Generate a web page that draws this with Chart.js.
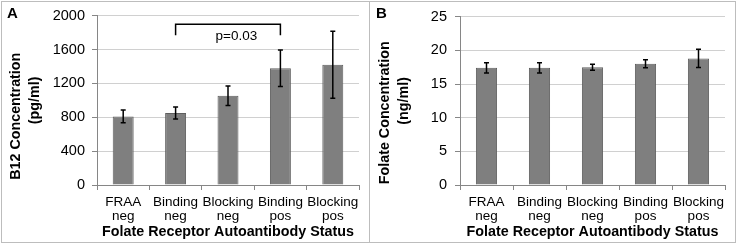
<!DOCTYPE html>
<html>
<head>
<meta charset="utf-8">
<script src="https://cdn.jsdelivr.net/npm/chart.js@4/dist/chart.umd.min.js"></script>
<style>
  body { margin: 0; background: #fff; }
  #wrap { position: relative; width: 737px; height: 245px; }
  .panel { position: absolute; top: 0; height: 245px; }
  .frame { position: absolute; top: 1px; height: 242px; box-sizing: border-box; border: 1px solid #bdbdbd; pointer-events: none; }
</style>
</head>
<body>
<div id="wrap">
  <div class="panel" style="left:0;width:369px"><canvas id="chartA" width="369" height="245"></canvas></div>
  <div class="panel" style="left:369px;width:368px"><canvas id="chartB" width="368" height="245"></canvas></div>
  <div class="frame" style="left:1px;width:369px"></div>
  <div class="frame" style="left:369px;width:367px"></div>
</div>
<script>
// Data
const categories = [["FRAA", "neg"], ["Binding", "neg"], ["Blocking", "neg"], ["Binding", "pos"], ["Blocking", "pos"]];
const b12Means = [810, 850, 1055, 1380, 1420];
const b12Errors = [75, 70, 115, 215, 395];
const folateMeans = [17.4, 17.4, 17.5, 18.0, 18.8];
const folateErrors = [0.75, 0.75, 0.45, 0.6, 1.35];
const b12Axis = { max: 2000, step: 400 };
const folateAxis = { max: 25, step: 5 };
// significance bracket between "Binding neg" and "Binding pos"
const b12Bracket = { from: 1, to: 3, top: 1900, leg: 1770, label: "p=0.03", labelAt: 2.16, labelY: 1760 };

const FONT = "'Liberation Sans', Arial, sans-serif";
const AXIS_COLOR = "#868686";

// draws the error bars on top of each bar
const errorBarPlugin = {
  id: "errorBars",
  afterDatasetsDraw(chart, args, opts) {
    const ctx = chart.ctx;
    const y = chart.scales.y;
    const meta = chart.getDatasetMeta(0);
    const means = chart.data.datasets[0].data;
    ctx.save();
    ctx.strokeStyle = "#000";
    ctx.lineWidth = 1.5;
    meta.data.forEach((bar, i) => {
      const top = y.getPixelForValue(means[i] + opts.errors[i]);
      const bot = y.getPixelForValue(means[i] - opts.errors[i]);
      ctx.beginPath();
      ctx.moveTo(bar.x, top);
      ctx.lineTo(bar.x, bot);
      ctx.moveTo(bar.x - 2.5, top);
      ctx.lineTo(bar.x + 2.5, top);
      ctx.moveTo(bar.x - 2.5, bot);
      ctx.lineTo(bar.x + 2.5, bot);
      ctx.stroke();
    });
    ctx.restore();
  },
};

// bracket with p value, plus the panel letter
const annotationPlugin = {
  id: "annot",
  afterDraw(chart, args, opts) {
    const ctx = chart.ctx;
    ctx.save();
    ctx.fillStyle = "#000";
    ctx.font = "bold 15px " + FONT;
    ctx.textBaseline = "top";
    ctx.textAlign = "left";
    ctx.fillText(opts.letter, 7, 6);
    const b = opts.bracket;
    if (b) {
      const x = chart.scales.x;
      const y = chart.scales.y;
      const x1 = x.getPixelForValue(b.from);
      const x2 = x.getPixelForValue(b.to);
      const yt = y.getPixelForValue(b.top);
      const yl = y.getPixelForValue(b.leg);
      ctx.strokeStyle = "#000";
      ctx.lineWidth = 1.5;
      ctx.beginPath();
      ctx.moveTo(x1, yl);
      ctx.lineTo(x1, yt);
      ctx.lineTo(x2, yt);
      ctx.lineTo(x2, yl);
      ctx.stroke();
      ctx.font = "13.5px " + FONT;
      ctx.textAlign = "center";
      ctx.textBaseline = "middle";
      ctx.fillText(b.label, x.getPixelForValue(b.labelAt), y.getPixelForValue(b.labelY));
    }
    ctx.restore();
  },
};

function makeChart(id, means, errors, axis, yTitle, letter, bracket, yWidth, padRight, tickPad) {
  return new Chart(document.getElementById(id), {
    type: "bar",
    data: {
      labels: categories,
      datasets: [
        {
          data: means,
          backgroundColor: "#7f7f7f",
          borderColor: "#5e5e5e",
          borderWidth: 1,
          barPercentage: 0.4,
          categoryPercentage: 1,
        },
      ],
    },
    options: {
      responsive: false,
      animation: false,
      layout: { padding: { top: 12, right: padRight, bottom: 0, left: 0 } },
      plugins: {
        legend: { display: false },
        tooltip: { enabled: false },
        errorBars: { errors: errors },
        annot: { letter: letter, bracket: bracket },
      },
      scales: {
        x: {
          afterFit: (s) => { s.height = 60; },
          grid: { drawOnChartArea: false, drawTicks: true, tickLength: 5, color: AXIS_COLOR, offset: true },
          border: { color: AXIS_COLOR },
          ticks: { color: "#000", padding: 5, maxRotation: 0, autoSkip: false, font: { family: FONT, size: 13.5, lineHeight: 1.04 } },
          title: {
            display: true,
            text: "Folate Receptor Autoantibody Status",
            color: "#000",
            padding: { top: 0, bottom: 4 },
            font: { family: FONT, size: 14.3, weight: "bold", lineHeight: 1.2 },
          },
        },
        y: {
          min: 0,
          max: axis.max,
          afterFit: (s) => { s.width = yWidth; },
          grid: { color: "#d0d0d0", tickColor: AXIS_COLOR, tickLength: 5 },
          border: { color: AXIS_COLOR },
          ticks: {
            stepSize: axis.step,
            color: "#000",
            padding: tickPad,
            font: { family: FONT, size: 14.5 },
            callback: (v) => String(v),
          },
          title: {
            display: true,
            text: yTitle,
            color: "#000",
            padding: { top: 7, bottom: 0 },
            font: { family: FONT, size: 14.3, weight: "bold", lineHeight: 1.3 },
          },
        },
      },
    },
    plugins: [errorBarPlugin, annotationPlugin],
  });
}

// trailing spaces nudge the long title line down, as in the original
makeChart("chartA", b12Means, b12Errors, b12Axis, ["B12 Concentration        ", "(pg/ml)"], "A", b12Bracket, 97, 10, 7);
makeChart("chartB", folateMeans, folateErrors, folateAxis, ["Folate Concentration      ", "(ng/ml)"], "B", null, 91, 12, 8);
</script>
</body>
</html>
